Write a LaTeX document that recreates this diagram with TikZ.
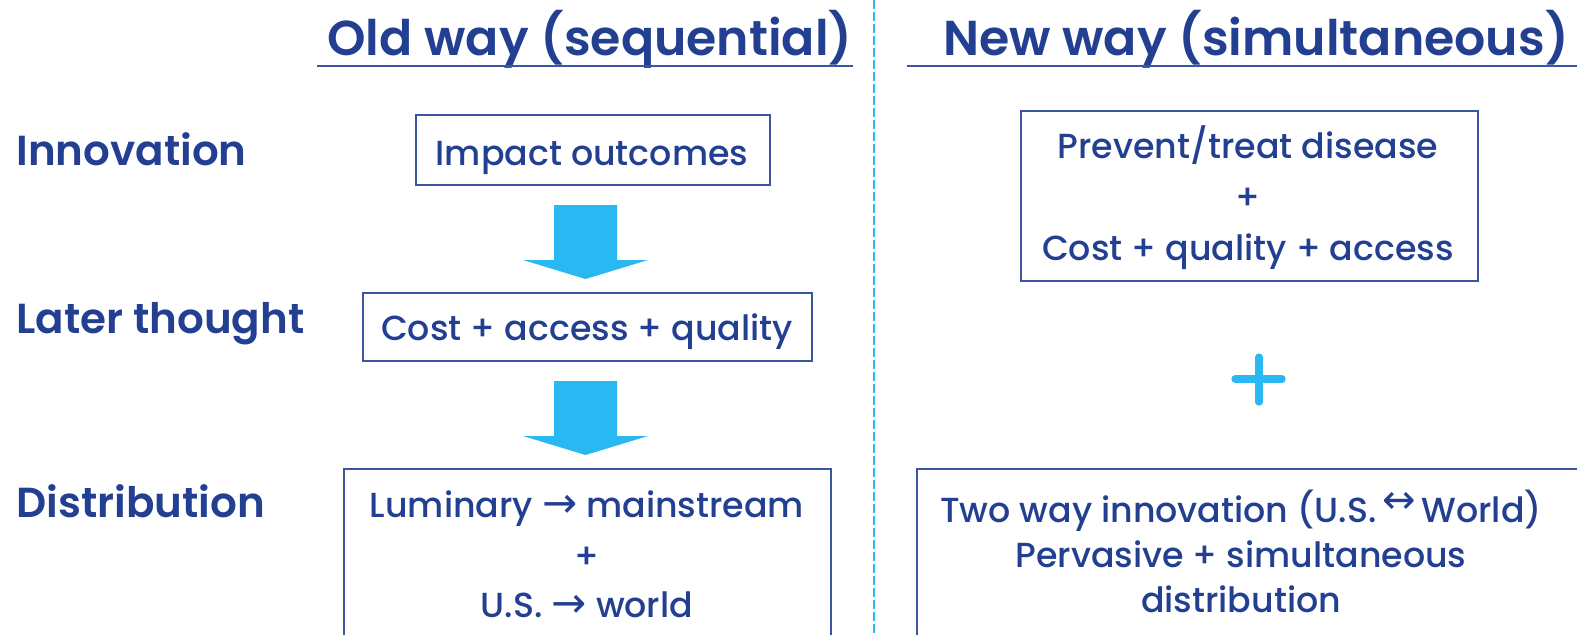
\documentclass[tikz,border=0pt]{standalone}
\usepackage{fontspec}
\setmainfont{Poppins}
\IfFontExistsTF{Poppins SemiBold}{\newfontfamily\headf{Poppins SemiBold}}{\newfontfamily\headf{Poppins Bold}}
\IfFontExistsTF{Poppins Medium}{\newfontfamily\bodyf{Poppins Medium}}{\newfontfamily\bodyf{Poppins}}
\newfontfamily\symf{DejaVu Sans}
\definecolor{txtblue}{HTML}{233F91}
\definecolor{boxblue}{HTML}{3A56A0}
\definecolor{cyanblue}{HTML}{29B8F2}
\begin{document}
\begin{tikzpicture}[x=0.5pt,y=-0.5pt,
  every node/.style={inner sep=0pt, text=txtblue},
  title/.style={anchor=base, font=\headf\fontsize{24.5}{29}\selectfont},
  rowlabel/.style={anchor=base west, font=\headf\fontsize{21}{25}\selectfont},
  boxtext/.style={anchor=base, font=\bodyf\fontsize{17.4}{21}\selectfont},
  frame/.style={draw=boxblue, line width=1pt, anchor=north west, minimum width=#1},
  uline/.style={draw=boxblue, line width=1.1pt},
  blockarrow/.style={fill=cyanblue, draw=none},
  divider/.style={draw=cyanblue, line width=1pt, dash pattern=on 4.5pt off 1.5pt}]
\useasboundingbox (0,0) rectangle (1577,634);
\clip (0,0) rectangle (1577,634);
% divider
\coordinate (dtop) at (874,0);
\coordinate (dbot) at (874,634);
\draw[divider] (dtop) -- (dbot);
% titles
\node[title] (told) at (590,55) {Old way (sequential)};
\node[title] (tnew) at (1256,55) {New way (simultaneous)};
\coordinate (u1a) at (317,66); \coordinate (u1b) at (853,66);
\coordinate (u2a) at (907,66); \coordinate (u2b) at (1577,66);
\draw[uline] (u1a) -- (u1b);
\draw[uline] (u2a) -- (u2b);
% row labels
\node[rowlabel] (linno) at (16,165) {Innovation};
\node[rowlabel] (llater) at (16,333) {Later thought};
\node[rowlabel] (ldist) at (16,517) {Distribution};
% left boxes
\node[frame=354*0.5pt, minimum height=70*0.5pt] (b1) at (415,114) {};
\node[boxtext] (t1) at (592,165) {Impact outcomes};
\node[frame=449*0.5pt, minimum height=68*0.5pt] (b2) at (362,292) {};
\node[boxtext] (t2) at (587,340) {Cost + access + quality};
\node[frame=487*0.5pt, minimum height=220*0.5pt] (b3) at (343,468) {};
\node[boxtext] (t3a) at (587,517) {Luminary {\symf\fontsize{21}{22}\selectfont→} mainstream};
\node[boxtext] (t3b) at (587,568) {+};
\node[boxtext] (t3c) at (587,617) {U.S. {\symf\fontsize{21}{22}\selectfont→} world};
% block arrows
\path[blockarrow] (554,205) -- (617,205) -- (617,260) -- (648,260) -- (585.5,279) -- (523,260) -- (554,260) -- cycle;
\path[blockarrow] (554,381) -- (617,381) -- (617,436) -- (648,436) -- (585.5,455) -- (523,436) -- (554,436) -- cycle;
% right boxes
\node[frame=457*0.5pt, minimum height=170*0.5pt] (b4) at (1020,110) {};
\node[boxtext] (t4a) at (1248,158) {Prevent/treat disease};
\node[boxtext] (t4b) at (1248,209) {+};
\node[boxtext] (t4c) at (1248,260) {Cost + quality + access};
\coordinate (p1) at (1235,379); \coordinate (p2) at (1282,379);
\coordinate (p3) at (1259,357); \coordinate (p4) at (1259,402);
\draw[cyanblue, line width=3.6pt, line cap=round] (p1) -- (p2) (p3) -- (p4);
\node[frame=700*0.5pt, minimum height=220*0.5pt] (b5) at (916,468) {};
\node[boxtext] (t5a) at (1241,522) {Two way innovation (U.S.\,\raisebox{0.45ex}{\symf\fontsize{20}{22}\selectfont↔}\,World)};
\node[boxtext] (t5b) at (1241,567) {Pervasive + simultaneous};
\node[boxtext] (t5c) at (1241,612) {distribution};
\end{tikzpicture}
\end{document}
